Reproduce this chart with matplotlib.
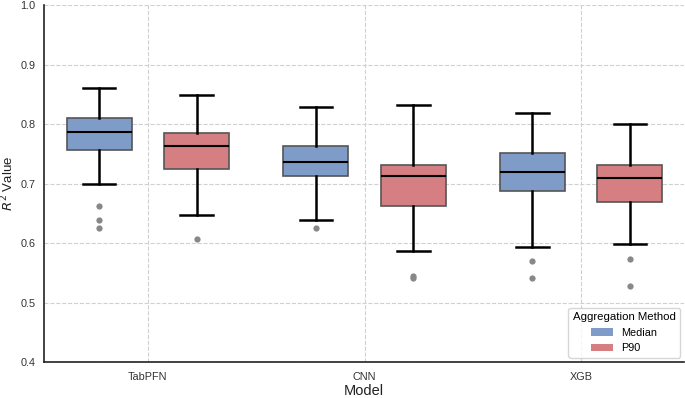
import numpy as np
import matplotlib
matplotlib.use('Agg')
import matplotlib.pyplot as plt
from matplotlib.patches import Patch

plt.rcParams['font.family'] = ['Liberation Sans', 'DejaVu Sans']

models = ['TabPFN', 'CNN', 'XGB']
methods = ['Median', 'P90']
colors = {'Median': '#7f9cc9', 'P90': '#d57f82'}

# whislo, q1, med, q3, whishi, outliers
median_stats = [
    [0.700, 0.756, 0.787, 0.811, 0.860, [0.662, 0.639, 0.626]],
    [0.638, 0.713, 0.737, 0.764, 0.828, [0.625]],
    [0.594, 0.688, 0.719, 0.752, 0.819, [0.570, 0.542]],
]
p90_stats = [
    [0.647, 0.724, 0.763, 0.785, 0.849, [0.606]],
    [0.587, 0.662, 0.713, 0.731, 0.832, [0.544, 0.541]],
    [0.598, 0.669, 0.709, 0.731, 0.800, [0.573, 0.528]],
]

fig = plt.figure(figsize=(6.85, 3.98), dpi=100)
ax = fig.add_axes([0.064, 0.0905, 0.935, 0.8965])

for k, (name, table) in enumerate([('Median', median_stats), ('P90', p90_stats)]):
    stats = []
    for row in table:
        stats.append(dict(whislo=row[0], q1=row[1], med=row[2], q3=row[3],
                          whishi=row[4], fliers=row[5]))
    pos = np.arange(len(models)) + (-0.225 if k == 0 else 0.225)
    ax.bxp(stats, positions=pos, widths=0.3, patch_artist=True,
           boxprops=dict(facecolor=colors[name], edgecolor='#555555', linewidth=1.2),
           medianprops=dict(color='black', linewidth=1.5),
           whiskerprops=dict(color='black', linewidth=1.8),
           capprops=dict(color='black', linewidth=1.8),
           flierprops=dict(marker='o', markerfacecolor='#888888', markeredgecolor='none',
                           markersize=4.5))

ax.set_xlim(-0.48, 2.476)
ax.set_ylim(0.4, 1.0)
ax.set_yticks(np.arange(0.4, 1.01, 0.1))
ax.set_xticks(range(len(models)))
ax.set_xticklabels(models)
ax.tick_params(labelsize=7.8, colors='#333333', length=0, pad=7)
ax.tick_params(axis='y', pad=6)
ax.grid(True, linestyle='--', color='#d0d0d0', linewidth=0.8)
ax.set_axisbelow(True)
for s in ['top', 'right']:
    ax.spines[s].set_visible(False)
for s in ['left', 'bottom']:
    ax.spines[s].set_color('#222222')
    ax.spines[s].set_linewidth(1.2)

ax.set_xlabel('Model', fontsize=10.5, color='#222222', labelpad=2)
ax.set_ylabel('$R^2$ Value', fontsize=9.5, color='#222222', labelpad=3)

handles = [Patch(facecolor=colors[m], edgecolor='none') for m in methods]
leg = ax.legend(handles, methods, title='Aggregation Method', loc='lower right',
                fontsize=7.8, title_fontsize=8.2, frameon=True, borderaxespad=0.4,
                handlelength=2.0, handleheight=0.7)
leg.get_frame().set_edgecolor('#cccccc')

fig.savefig('out.png', dpi=100)
